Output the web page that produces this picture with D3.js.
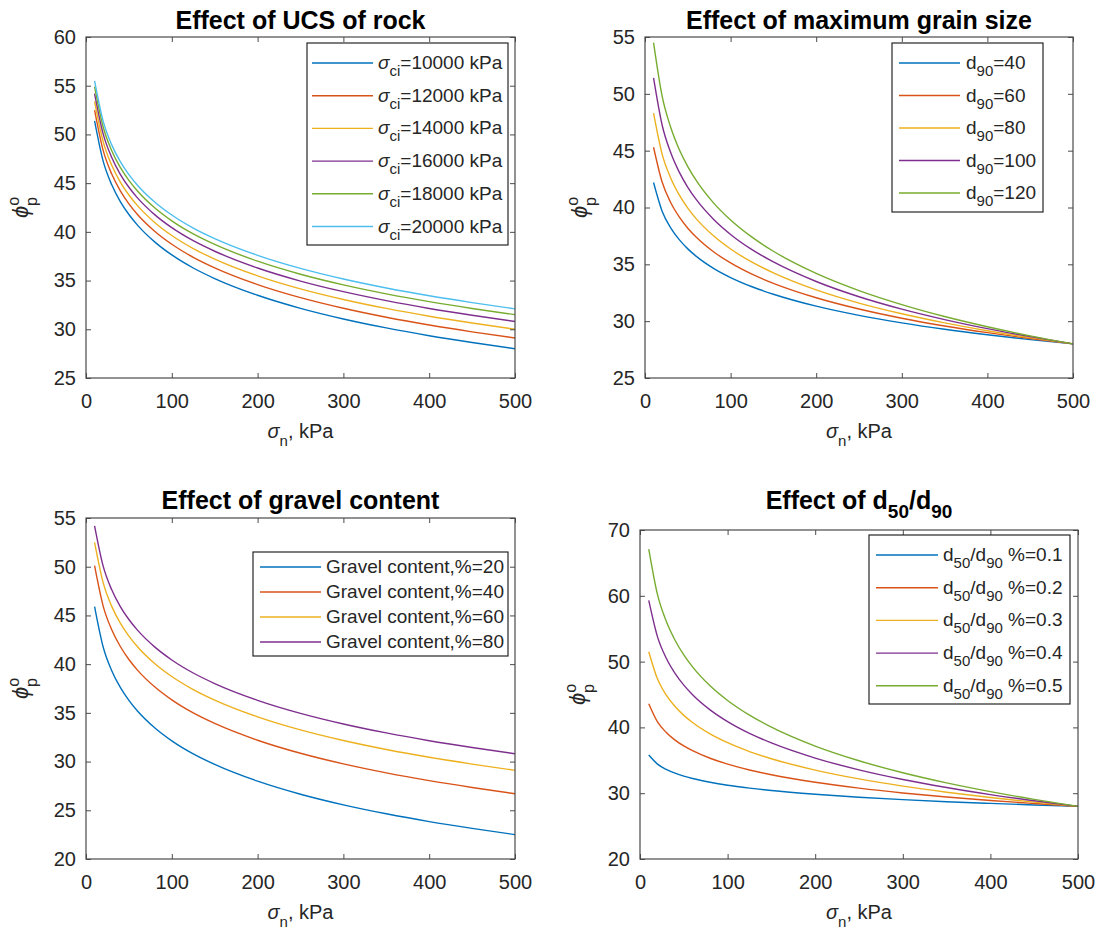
<!DOCTYPE html>
<html>
<head>
<meta charset="utf-8">
<script src="https://cdn.jsdelivr.net/npm/d3@7/dist/d3.min.js"></script>
<style>
  html, body { margin: 0; padding: 0; background: #fff; }
  svg { display: block; }
  text { font-family: "Liberation Sans", Arial, Helvetica, "DejaVu Sans", sans-serif; fill: #262626; }
</style>
</head>
<body>
<svg id="fig" width="1099" height="933"></svg>
<script>
// Normal stress values (kPa) at which the peak friction angle is evaluated
const sigmaN = [10, 20, 30, 40, 50, 60, 80, 100, 125, 150, 200, 250, 300, 350, 400, 450, 500];

// Effect of UCS of rock
const ucsValues = [10000, 12000, 14000, 16000, 18000, 20000];
const ucsPhi = [
  [51.4, 47.26, 44.83, 43.11, 41.78, 40.69, 38.97, 37.63, 36.29, 35.21, 33.49, 32.15, 31.06, 30.14, 29.34, 28.64, 28.0],
  [52.5, 48.36, 45.93, 44.21, 42.88, 41.79, 40.07, 38.73, 37.39, 36.31, 34.59, 33.25, 32.16, 31.24, 30.44, 29.74, 29.1],
  [53.4, 49.26, 46.83, 45.11, 43.78, 42.69, 40.97, 39.63, 38.29, 37.21, 35.49, 34.15, 33.06, 32.14, 31.34, 30.64, 30.0],
  [54.2, 50.06, 47.63, 45.91, 44.58, 43.49, 41.77, 40.43, 39.09, 38.01, 36.29, 34.95, 33.86, 32.94, 32.14, 31.44, 30.8],
  [54.9, 50.76, 48.33, 46.61, 45.28, 44.19, 42.47, 41.13, 39.79, 38.71, 36.99, 35.65, 34.56, 33.64, 32.84, 32.14, 31.5],
  [55.5, 51.36, 48.93, 47.21, 45.88, 44.79, 43.07, 41.73, 40.39, 39.31, 37.59, 36.25, 35.16, 34.24, 33.44, 32.74, 32.1]
];

// Effect of maximum grain size
const d90Values = [40, 60, 80, 100, 120];
const d90Phi = [
  [42.2, 39.68, 38.21, 37.17, 36.36, 35.70, 34.65, 33.84, 33.03, 32.37, 31.32, 30.51, 29.85, 29.29, 28.81, 28.38, 28.0],
  [45.3, 42.24, 40.44, 39.17, 38.18, 37.38, 36.11, 35.12, 34.13, 33.33, 32.06, 31.07, 30.26, 29.58, 28.99, 28.47, 28.0],
  [48.3, 44.70, 42.60, 41.11, 39.95, 39.00, 37.51, 36.35, 35.19, 34.25, 32.75, 31.59, 30.65, 29.85, 29.16, 28.55, 28.0],
  [51.4, 47.26, 44.83, 43.11, 41.78, 40.69, 38.97, 37.63, 36.29, 35.21, 33.49, 32.15, 31.06, 30.14, 29.34, 28.64, 28.0],
  [54.5, 49.80, 47.06, 45.11, 43.60, 42.36, 40.41, 38.90, 37.39, 36.15, 34.20, 32.69, 31.46, 30.41, 29.51, 28.71, 28.0]
];

// Effect of gravel content
const gravelValues = [20, 40, 60, 80];
const gravelPhi = [
  [45.9, 41.76, 39.33, 37.61, 36.28, 35.19, 33.47, 32.13, 30.79, 29.71, 27.99, 26.65, 25.56, 24.64, 23.84, 23.14, 22.5],
  [50.1, 45.96, 43.53, 41.81, 40.48, 39.39, 37.67, 36.33, 34.99, 33.91, 32.19, 30.85, 29.76, 28.84, 28.04, 27.34, 26.7],
  [52.5, 48.36, 45.93, 44.21, 42.88, 41.79, 40.07, 38.73, 37.39, 36.31, 34.59, 33.25, 32.16, 31.24, 30.44, 29.74, 29.1],
  [54.2, 50.06, 47.63, 45.91, 44.58, 43.49, 41.77, 40.43, 39.09, 38.01, 36.29, 34.95, 33.86, 32.94, 32.14, 31.44, 30.8]
];

// Effect of d50/d90
const ratioValues = ["0.1", "0.2", "0.3", "0.4", "0.5"];
const ratioPhi = [
  [35.8, 34.42, 33.61, 33.04, 32.59, 32.23, 31.66, 31.21, 30.77, 30.40, 29.83, 29.38, 29.02, 28.71, 28.45, 28.21, 28.0],
  [43.6, 40.84, 39.22, 38.07, 37.18, 36.46, 35.31, 34.42, 33.53, 32.80, 31.66, 30.77, 30.04, 29.43, 28.89, 28.43, 28.0],
  [51.5, 47.34, 44.90, 43.17, 41.83, 40.74, 39.01, 37.67, 36.33, 35.24, 33.51, 32.17, 31.07, 30.15, 29.34, 28.64, 28.0],
  [59.3, 53.76, 50.51, 48.21, 46.42, 44.97, 42.67, 40.88, 39.09, 37.64, 35.34, 33.55, 32.09, 30.86, 29.79, 28.85, 28.0],
  [67.1, 60.17, 56.12, 53.25, 51.02, 49.20, 46.32, 44.09, 41.86, 40.04, 37.16, 34.93, 33.11, 31.57, 30.24, 29.06, 28.0]
];

// Axis ticks
const xTicks = [0, 100, 200, 300, 400, 500];
const yTicksUcs = [25, 30, 35, 40, 45, 50, 55, 60];
const yTicksD90 = [25, 30, 35, 40, 45, 50, 55];
const yTicksGravel = [20, 25, 30, 35, 40, 45, 50, 55];
const yTicksRatio = [20, 30, 40, 50, 60, 70];

const lineColors = ["#0072BD", "#D95319", "#EDB120", "#7E2F8E", "#77AC30", "#4DBEEE"];

// Rich text: parts are {t, italic, sub, sup}
function rich(textSel, parts, size, subSize, shift) {
  let offset = 0;
  parts.forEach(p => {
    const ts = textSel.append("tspan").text(p.t);
    let target = 0;
    if (p.sub) target = shift;
    if (p.sup) target = -shift;
    const dy = target - offset;
    if (dy !== 0) ts.attr("dy", dy);
    if (p.dx) ts.attr("dx", p.dx);
    offset = target;
    ts.style("font-size", (p.sub || p.sup ? subSize : size) + "px");
    if (p.italic) ts.style("font-style", "italic");
  });
}

const svg = d3.select("#fig");

const panels = [
  {
    box: { left: 86, right: 515, top: 37, bottom: 378 },
    yDomain: [25, 60], yTicks: yTicksUcs, series: ucsPhi,
    title: [{ t: "Effect of UCS of rock" }], titleY: 29,
    labels: ucsValues.map(v => [{ t: "σ", italic: true }, { t: "ci", sub: true }, { t: "=" + v + " kPa" }]),
    legend: { x0: 307, x1: 508, y0: 43, y1: 245, row0: 63, step: 32.7, l0: 312, l1: 373, tx: 378 },
    yLabelX: 28, xLabelY: 438
  },
  {
    box: { left: 645, right: 1073, top: 37, bottom: 378 },
    yDomain: [25, 55], yTicks: yTicksD90, series: d90Phi,
    title: [{ t: "Effect of maximum grain size" }], titleY: 29,
    labels: d90Values.map(v => [{ t: "d" }, { t: "90", sub: true }, { t: "=" + v }]),
    legend: { x0: 892, x1: 1043, y0: 43, y1: 212, row0: 63, step: 32.5, l0: 899, l1: 960, tx: 966 },
    yLabelX: 587, xLabelY: 438
  },
  {
    box: { left: 86, right: 515, top: 518, bottom: 859 },
    yDomain: [20, 55], yTicks: yTicksGravel, series: gravelPhi,
    title: [{ t: "Effect of gravel content" }], titleY: 509,
    labels: gravelValues.map(v => [{ t: "Gravel content,%=" + v }]),
    legend: { x0: 253, x1: 508, y0: 552, y1: 656, row0: 567, step: 25, l0: 260, l1: 321, tx: 326 },
    yLabelX: 28, xLabelY: 919
  },
  {
    box: { left: 640, right: 1078, top: 530, bottom: 859 },
    yDomain: [20, 70], yTicks: yTicksRatio, series: ratioPhi,
    title: [{ t: "Effect of d" }, { t: "50", sub: true }, { t: "/d" }, { t: "90", sub: true }], titleY: 509,
    labels: ratioValues.map(v => [{ t: "d" }, { t: "50", sub: true }, { t: "/d" }, { t: "90", sub: true }, { t: " %=" + v }]),
    legend: { x0: 869, x1: 1070, y0: 535, y1: 704, row0: 555, step: 32.7, l0: 876, l1: 938, tx: 943 },
    yLabelX: 585, xLabelY: 919
  }
];

const axisColor = "#4a4a4a";
const tickLen = 5;

panels.forEach(pn => {
  const b = pn.box;
  const x = d3.scaleLinear().domain([0, 500]).range([b.left, b.right]);
  const y = d3.scaleLinear().domain(pn.yDomain).range([b.bottom, b.top]);
  const g = svg.append("g");

  // curves
  const line = d3.line().x(d => x(d[0])).y(d => y(d[1])).curve(d3.curveMonotoneX);
  pn.series.forEach((vals, i) => {
    g.append("path")
      .datum(sigmaN.map((s, k) => [s, vals[k]]))
      .attr("d", line)
      .attr("fill", "none")
      .attr("stroke", lineColors[i])
      .attr("stroke-width", 1.4);
  });

  // axes (ticks pointing inward on all four sides)
  const styleAxis = sel => {
    sel.select(".domain").remove();
    sel.selectAll(".tick line").attr("stroke", axisColor).attr("stroke-width", 1);
    sel.selectAll(".tick text").style("font-size", "20px").attr("fill", "#303030");
  };
  g.append("g").attr("transform", `translate(0,${b.bottom})`)
    .call(d3.axisBottom(x).tickValues(xTicks).tickSizeInner(-tickLen).tickSizeOuter(0).tickPadding(16))
    .call(styleAxis);
  g.append("g").attr("transform", `translate(0,${b.top})`)
    .call(d3.axisTop(x).tickValues(xTicks).tickSizeInner(-tickLen).tickSizeOuter(0).tickFormat(""))
    .call(styleAxis);
  g.append("g").attr("transform", `translate(${b.left},0)`)
    .call(d3.axisLeft(y).tickValues(pn.yTicks).tickSizeInner(-tickLen).tickSizeOuter(0).tickPadding(10))
    .call(styleAxis);
  g.append("g").attr("transform", `translate(${b.right},0)`)
    .call(d3.axisRight(y).tickValues(pn.yTicks).tickSizeInner(-tickLen).tickSizeOuter(0).tickFormat(""))
    .call(styleAxis);
  g.selectAll(".tick text").attr("font-family", null);

  g.append("rect")
    .attr("x", b.left).attr("y", b.top)
    .attr("width", b.right - b.left).attr("height", b.bottom - b.top)
    .attr("fill", "none").attr("stroke", axisColor).attr("stroke-width", 1.2);

  // title
  const cx = (b.left + b.right) / 2;
  const title = g.append("text").attr("x", cx).attr("y", pn.titleY)
    .attr("text-anchor", "middle").style("font-weight", "bold").style("fill", "#000");
  rich(title, pn.title, 25, 19, 9);

  // x label
  const xl = g.append("text").attr("x", cx).attr("y", pn.xLabelY).attr("text-anchor", "middle");
  rich(xl, [{ t: "σ", italic: true }, { t: "n", sub: true }, { t: ", kPa" }], 20, 15, 8);

  // y label
  const cy = (b.top + b.bottom) / 2;
  const yl = g.append("text")
    .attr("transform", `translate(${pn.yLabelX},${cy}) rotate(-90)`)
    .attr("text-anchor", "middle");
  rich(yl, [{ t: "ϕ", italic: true }, { t: "o", sup: true }, { t: "p", sub: true, dx: -9 }], 22, 16, 9);

  // legend
  const L = pn.legend;
  const lg = g.append("g");
  lg.append("rect").attr("x", L.x0).attr("y", L.y0)
    .attr("width", L.x1 - L.x0).attr("height", L.y1 - L.y0)
    .attr("fill", "#fff").attr("stroke", "#262626").attr("stroke-width", 1.2);
  pn.labels.forEach((parts, i) => {
    const ry = L.row0 + i * L.step;
    lg.append("line").attr("x1", L.l0).attr("x2", L.l1).attr("y1", ry).attr("y2", ry)
      .attr("stroke", lineColors[i]).attr("stroke-width", 1.4);
    const t = lg.append("text").attr("x", L.tx).attr("y", ry + 6);
    rich(t, parts, 19, 15, 7);
  });
});
</script>
</body>
</html>
